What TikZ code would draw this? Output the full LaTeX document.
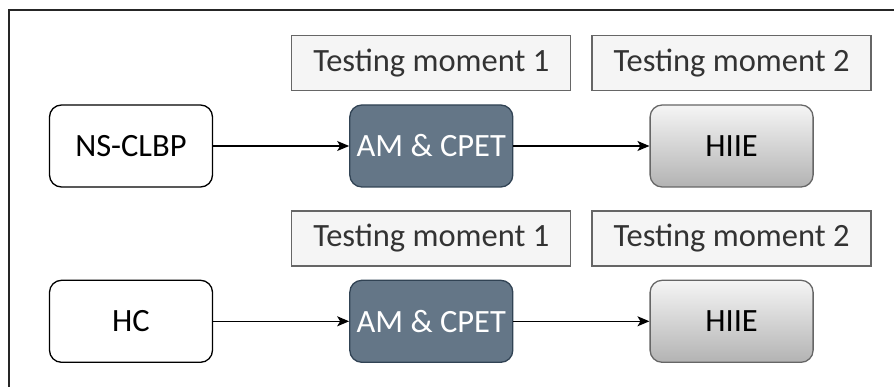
\documentclass[tikz,border=0pt]{standalone}
\usepackage{fontspec}
\setmainfont{Carlito}
\usepackage{xcolor}
\usetikzlibrary{arrows.meta,positioning}

\definecolor{slatefill}{HTML}{647687}
\definecolor{slatedraw}{HTML}{314354}
\definecolor{lightfill}{HTML}{F5F5F5}
\definecolor{greydraw}{HTML}{666666}
\definecolor{greytext}{HTML}{333333}
\definecolor{shadebot}{HTML}{B3B3B3}

\begin{document}
\begin{tikzpicture}[>={Stealth[length=12pt,width=10pt,inset=3pt]},
	x=1pt, y=1pt,
	line width=1.3pt,
	font=\fontsize{32.5}{38}\selectfont,
	box/.style = {rounded corners=12pt, minimum width=163pt, minimum height=82pt, inner sep=0pt},
	group/.style = {box, draw=black, fill=white},
	test/.style = {box, draw=slatedraw, fill=slatefill, text=white},
	train/.style = {box, draw=greydraw, top color=lightfill, bottom color=shadebot},
	moment/.style = {draw=greydraw, fill=lightfill, text=greytext, minimum width=279pt, minimum height=55pt, inner sep=0pt}
	]
	\useasboundingbox (0,0) rectangle (894,-387);
	% frame lines
	\draw[black!85] (9,-387) -- (9,-10) -- (894,-10);
	
	% patient group
	\node (ns) [group] at (131,-146) {NS-CLBP};
	\node (am1) [test, right=136pt of ns] {AM \& CPET};
	\node (hi1) [train, right=136pt of am1] {HIIE};
	\node (tm11) [moment, above=13pt of am1] {Testing moment 1};
	\node (tm12) [moment, above=13pt of hi1] {Testing moment 2};
	
	% control group
	\node (hc) [group, below=92pt of ns] {HC};
	\node (am2) [test, right=136pt of hc] {AM \& CPET};
	\node (hi2) [train, right=136pt of am2] {HIIE};
	\node (tm21) [moment, above=13pt of am2] {Testing moment 1};
	\node (tm22) [moment, above=13pt of hi2] {Testing moment 2};
	
	\path[->]
	(ns)  edge  (am1)
	(am1) edge  (hi1)
	(hc)  edge  (am2)
	(am2) edge  (hi2);
\end{tikzpicture}
\end{document}
